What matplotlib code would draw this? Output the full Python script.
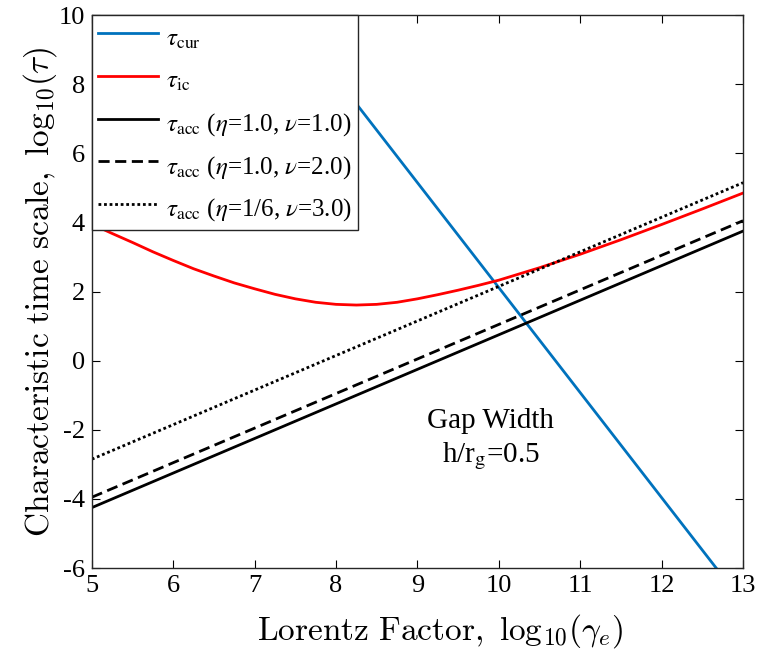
import matplotlib
matplotlib.use("Agg")
import matplotlib.pyplot as plt
import numpy as np

plt.rcParams["font.family"] = ["Liberation Serif", "DejaVu Serif"]
plt.rcParams["mathtext.fontset"] = "stix"
plt.rcParams["axes.unicode_minus"] = False

# values
x_cur = [5.0, 13.0]
y_cur = [17.3, -7.0]

x_ic = [5.0, 5.25, 5.5, 5.75, 6.0, 6.25, 6.5, 6.75, 7.0, 7.25, 7.5, 7.75,
        8.0, 8.25, 8.5, 8.75, 9.0, 9.25, 9.5, 9.75, 10.0, 10.5, 11.0, 11.5,
        12.0, 12.5, 13.0]
y_ic = [3.95, 3.68, 3.42, 3.15, 2.9, 2.66, 2.45, 2.25, 2.08, 1.92, 1.79, 1.69,
        1.63, 1.61, 1.63, 1.69, 1.79, 1.91, 2.04, 2.18, 2.33, 2.69, 3.08, 3.5,
        3.94, 4.39, 4.85]

x_acc = [5.0, 13.0]
y_acc1 = [-4.25, 3.75]
y_acc2 = [-3.95, 4.05]
y_acc3 = [-2.85, 5.15]

fig = plt.figure(figsize=(7.59, 6.53), dpi=100)
ax = fig.add_axes([0.121, 0.130, 0.858, 0.847])

ax.plot(x_cur, y_cur, color="#0072BD", lw=2.0, label=r"$\tau_{\rm cur}$")
ax.plot(x_ic, y_ic, color="red", lw=2.0, label=r"$\tau_{\rm ic}$")
ax.plot(x_acc, y_acc1, color="black", lw=2.0,
        label=r"$\tau_{\rm acc}$ ($\eta$=1.0, $\nu$=1.0)")
ax.plot(x_acc, y_acc2, color="black", lw=2.0, dashes=(4, 2),
        label=r"$\tau_{\rm acc}$ ($\eta$=1.0, $\nu$=2.0)")
ax.plot(x_acc, y_acc3, color="black", lw=2.0, linestyle=(0, (1, 1)),
        label=r"$\tau_{\rm acc}$ ($\eta$=1/6, $\nu$=3.0)")

ax.set_xlim(5, 13)
ax.set_ylim(-6, 10)
ax.set_xticks(np.arange(5, 14, 1))
ax.set_yticks(np.arange(-6, 11, 2))
ax.tick_params(direction="in", top=True, right=True, labelsize=19, length=6,
               pad=5)
for s in ax.spines.values():
    s.set_linewidth(1.0)
    s.set_color("#262626")

ax.set_xlabel(r"$\mathrm{Lorentz\ Factor,\ log}_{10}(\gamma_e)$",
              fontsize=24, math_fontfamily="cm")
ax.xaxis.set_label_coords(0.535, -0.08)
ax.set_ylabel(r"$\mathrm{Characteristic\ time\ scale,\ log}_{10}(\tau)$",
              fontsize=24, math_fontfamily="cm", labelpad=0)

ax.text(9.9, -1.75, "Gap Width", fontsize=21, ha="center", va="center")
ax.text(9.9, -2.75, r"h/r$_{\rm g}$=0.5", fontsize=21, ha="center",
        va="center")

leg = ax.legend(loc="upper left", fontsize=18, fancybox=False, framealpha=1,
                edgecolor="#262626", borderaxespad=0, handlelength=2.4,
                handleheight=1.6, labelspacing=0.42, borderpad=0.25,
                handletextpad=0.3)
leg.get_frame().set_linewidth(1.0)

fig.savefig("out.png", dpi=100)
